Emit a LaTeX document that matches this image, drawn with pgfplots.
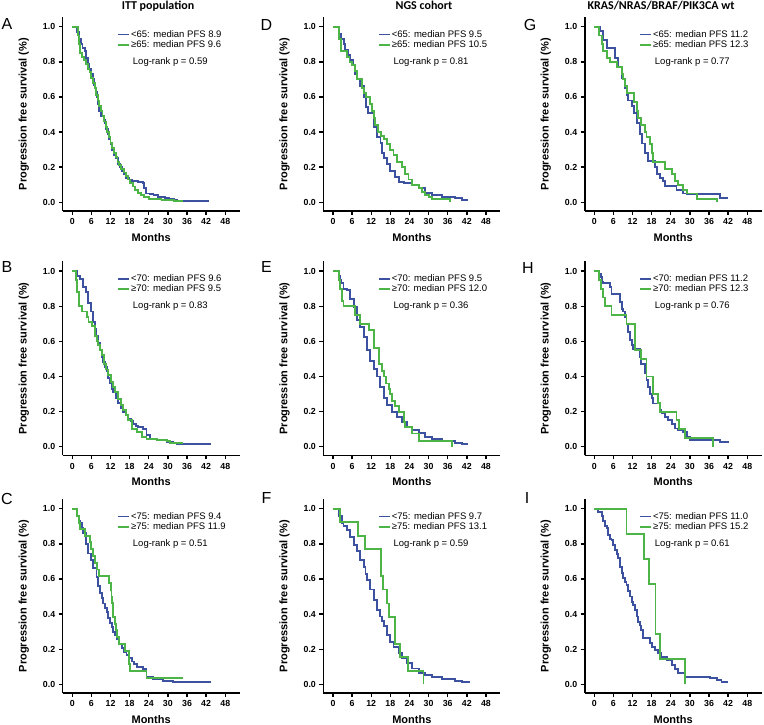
\documentclass[border=0pt]{standalone}
\usepackage{fontspec}
\setmainfont{Liberation Sans}
\newfontfamily\calibri{Carlito}
\usepackage{pgfplots}
\pgfplotsset{compat=1.18}
\definecolor{kmblue}{RGB}{61,81,161}
\definecolor{kmgreen}{RGB}{77,181,72}

\pgfplotsset{
  km/.style={
    anchor=south west,
    x=3.1875pt, y=175.6pt,
    xmin=-3, xmax=52.5, ymin=-0.05, ymax=1.055,
    axis lines=left, axis line style={-, line width=1.6pt, black},
    xtick={0,6,...,48}, ytick={0,0.2,0.4,0.6,0.8,1.0},
    tick align=outside, major tick length=4pt,
    tick style={line width=1.4pt, black},
    /pgf/number format/assume math mode=true,
    yticklabel style={/pgf/number format/.cd, fixed, fixed zerofill, precision=1},
    ticklabel style={font=\bfseries\fontsize{8.8}{10}\selectfont},
    xlabel={Months}, ylabel={Progression free survival (\%)},
    label style={font=\bfseries\fontsize{11}{13}\selectfont},
    xlabel style={at={(axis description cs:0.5,-0.134)}, anchor=center},
    ylabel style={at={(axis description cs:-0.22,0.5)}, anchor=center},
    legend style={draw=none, fill=none, at={(axis description cs:0.307,0.938)},
      anchor=north west, font=\fontsize{9.5}{11}\selectfont, row sep=0pt,
      inner sep=0pt, nodes={inner sep=1pt}},
    legend cell align=left,
    legend image code/.code={\draw[#1] (0pt,0pt) -- (11pt,0pt);},
  },
  bl/.style={kmblue, line width=1.9pt, const plot},
  gr/.style={kmgreen, line width=1.9pt, const plot},
}
\tikzset{logrank/.style={anchor=west, font=\fontsize{9.5}{11}\selectfont, inner sep=0pt}}

\begin{document}
\begin{tikzpicture}
\path[use as bounding box] (0,0) rectangle (764pt,724pt);

% ---- A
\begin{axis}[km, at={(62.7pt,512.9pt)}]
\addplot[bl] coordinates {(0,1)(1.6,0.97)(2.0,0.93)(2.6,0.90)(3.2,0.88)(4.0,0.86)(4.4,0.82)(4.8,0.79)(5.3,0.76)(5.8,0.73)(6.4,0.70)(6.9,0.67)(7.3,0.63)(7.7,0.60)(8.1,0.56)(8.5,0.52)(8.9,0.49)(9.8,0.47)(10.3,0.45)(10.7,0.42)(11.1,0.39)(11.5,0.36)(12.0,0.33)(12.5,0.30)(13.1,0.27)(13.7,0.25)(14.3,0.22)(15.0,0.20)(15.6,0.18)(16.2,0.16)(16.9,0.14)(17.8,0.13)(18.8,0.12)(20.5,0.115)(22.2,0.11)(22.6,0.08)(23.0,0.05)(24.5,0.045)(25.5,0.04)(27,0.03)(29,0.025)(30.5,0.02)(32,0.015)(33,0.01)(43,0.01)};
\addlegendentry{<65: median PFS 8.9}
\addplot[gr] coordinates {(0,1)(1.7,0.95)(2.0,0.90)(2.3,0.85)(3.0,0.83)(3.8,0.81)(4.4,0.79)(4.9,0.76)(5.4,0.74)(5.9,0.71)(6.5,0.68)(7.0,0.65)(7.5,0.61)(8.0,0.58)(8.5,0.55)(9.0,0.52)(9.5,0.49)(10.0,0.46)(10.5,0.43)(11.0,0.40)(11.5,0.37)(12.0,0.34)(12.5,0.31)(13.0,0.28)(13.6,0.26)(14.2,0.23)(14.8,0.21)(15.4,0.19)(16.1,0.17)(16.8,0.15)(17.5,0.13)(18.2,0.11)(19.0,0.09)(19.8,0.07)(20.6,0.055)(21.5,0.04)(22.5,0.03)(24,0.02)(26,0.017)(28,0.015)(30,0.012)(32,0.01)(34.8,0.01)};
\addlegendentry{≥65: median PFS 9.6}
\node[logrank] at (axis description cs:0.396,0.770) {Log-rank p = 0.59};
\end{axis}

% ---- B
\begin{axis}[km, at={(62.7pt,268.5pt)}]
\addplot[bl] coordinates {(0,1)(1.6,0.97)(2.4,0.955)(3.45,0.91)(4.3,0.88)(5.0,0.82)(5.75,0.77)(6.6,0.71)(7.1,0.67)(7.6,0.63)(8.1,0.59)(8.7,0.55)(9.2,0.51)(9.7,0.48)(10.2,0.455)(10.8,0.43)(11.3,0.39)(11.8,0.36)(12.3,0.33)(12.9,0.31)(13.6,0.28)(14.4,0.25)(15.2,0.22)(16.0,0.20)(16.8,0.18)(17.6,0.16)(18.3,0.145)(19.1,0.13)(19.9,0.12)(20.7,0.11)(22.3,0.10)(23.3,0.066)(24.4,0.047)(26.5,0.038)(29.6,0.028)(31.5,0.02)(32.7,0.017)(43.2,0.015)};
\addlegendentry{<70: median PFS 9.6}
\addplot[gr] coordinates {(0,1)(1.2,0.95)(1.6,0.88)(2.0,0.80)(3.0,0.77)(4.6,0.74)(5.1,0.71)(6.1,0.69)(7.1,0.63)(7.7,0.60)(8.2,0.58)(8.7,0.55)(9.2,0.52)(9.9,0.47)(10.5,0.44)(11.2,0.41)(12.2,0.37)(12.8,0.34)(13.4,0.31)(14.4,0.27)(15.2,0.24)(16.0,0.21)(16.8,0.18)(17.6,0.15)(18.6,0.10)(20.2,0.085)(21.8,0.057)(23.3,0.042)(26.5,0.038)(29.6,0.032)(30.6,0.023)(34.8,0.023)};
\addlegendentry{≥70: median PFS 9.5}
\node[logrank] at (axis description cs:0.396,0.770) {Log-rank p = 0.83};
\end{axis}

% ---- C
\begin{axis}[km, at={(62.7pt,30.9pt)}]
\addplot[bl] coordinates {(0,1)(1.4,0.96)(2.0,0.93)(2.4,0.92)(3.0,0.89)(3.45,0.86)(4.3,0.80)(5.0,0.745)(5.75,0.71)(6.6,0.66)(7.6,0.61)(8.2,0.56)(8.7,0.52)(9.2,0.49)(9.7,0.46)(10.3,0.435)(10.8,0.41)(11.3,0.38)(11.8,0.35)(12.4,0.325)(12.9,0.30)(13.4,0.28)(13.9,0.26)(14.7,0.23)(15.5,0.205)(16.2,0.185)(17.0,0.167)(17.8,0.15)(18.6,0.13)(19.4,0.115)(20.2,0.10)(22.3,0.087)(23.3,0.044)(25.4,0.03)(28.5,0.021)(31.7,0.013)(43.2,0.011)};
\addlegendentry{<75: median PFS 9.4}
\addplot[gr] coordinates {(0,1)(1.5,0.96)(2.0,0.92)(2.4,0.885)(4.0,0.846)(5.7,0.808)(6.0,0.77)(6.6,0.73)(7.1,0.69)(7.9,0.654)(8.5,0.615)(11.5,0.577)(12.1,0.538)(12.3,0.5)(12.5,0.462)(12.7,0.423)(12.9,0.385)(13.4,0.346)(13.8,0.308)(14.1,0.27)(14.6,0.23)(16.5,0.19)(17.7,0.154)(17.9,0.115)(18.1,0.077)(23.3,0.038)(34.6,0.038)};
\addlegendentry{≥75: median PFS 11.9}
\node[logrank] at (axis description cs:0.396,0.770) {Log-rank p = 0.51};
\end{axis}

% ---- D
\begin{axis}[km, at={(323.4pt,512.9pt)}]
\addplot[bl] coordinates {(0,1)(2.0,0.96)(2.6,0.93)(3.4,0.90)(3.9,0.87)(4.7,0.84)(5.4,0.81)(6.3,0.78)(7.0,0.73)(7.5,0.70)(8.6,0.66)(9.6,0.60)(10.3,0.545)(11.1,0.51)(12.8,0.43)(13.8,0.37)(14.9,0.34)(15.4,0.28)(15.9,0.25)(16.9,0.22)(18.0,0.18)(19.6,0.146)(20.6,0.118)(22.2,0.108)(24.8,0.10)(26.9,0.08)(29.0,0.051)(31.0,0.042)(34.2,0.032)(38.4,0.023)(40.4,0.013)(42.2,0.01)};
\addlegendentry{<65: median PFS 9.5}
\addplot[gr] coordinates {(0,1)(2.0,0.93)(2.4,0.88)(2.6,0.86)(4.4,0.83)(5.2,0.80)(6.0,0.78)(6.8,0.75)(7.5,0.70)(9.1,0.65)(9.6,0.62)(10.5,0.60)(11.7,0.56)(12.2,0.52)(12.8,0.48)(13.3,0.44)(14.2,0.40)(15.0,0.38)(15.9,0.36)(16.9,0.33)(18.0,0.30)(19.0,0.27)(20.1,0.23)(21.6,0.20)(22.7,0.16)(23.7,0.13)(24.8,0.10)(26.9,0.08)(27.9,0.06)(29.0,0.04)(30.0,0.03)(31.1,0.02)(36.8,0.0)};
\addlegendentry{≥65: median PFS 10.5}
\node[logrank] at (axis description cs:0.396,0.770) {Log-rank p = 0.81};
\end{axis}

% ---- E
\begin{axis}[km, at={(323.4pt,268.5pt)}]
\addplot[bl] coordinates {(0,1)(1.8,0.975)(2.3,0.95)(2.6,0.93)(3.3,0.90)(4.4,0.89)(5.4,0.84)(6.5,0.795)(7.5,0.72)(8.6,0.68)(9.6,0.625)(10.7,0.55)(11.7,0.49)(12.8,0.445)(13.8,0.40)(14.8,0.34)(15.9,0.275)(16.9,0.237)(18.5,0.20)(20.1,0.17)(21.6,0.142)(23.2,0.114)(24.8,0.095)(26.9,0.076)(29.0,0.057)(31.1,0.042)(34.2,0.032)(38.4,0.023)(40.5,0.015)(42.2,0.01)};
\addlegendentry{<70: median PFS 9.5}
\addplot[gr] coordinates {(0,1)(1.8,0.95)(2.3,0.90)(2.8,0.83)(3.3,0.80)(6.8,0.75)(8.6,0.70)(11.2,0.665)(12.9,0.56)(14.5,0.47)(15.4,0.43)(16.1,0.40)(16.7,0.36)(17.5,0.33)(18.0,0.30)(18.5,0.26)(19.6,0.23)(20.8,0.20)(22.2,0.14)(22.7,0.11)(24.8,0.075)(26.9,0.035)(37.3,0.0)};
\addlegendentry{≥70: median PFS 12.0}
\node[logrank] at (axis description cs:0.396,0.770) {Log-rank p = 0.36};
\end{axis}

% ---- F
\begin{axis}[km, at={(323.4pt,30.9pt)}]
\addplot[bl] coordinates {(0,1)(1.8,0.956)(2.8,0.92)(3.3,0.90)(4.4,0.88)(5.4,0.84)(6.5,0.795)(7.5,0.757)(8.6,0.71)(9.6,0.67)(10.2,0.63)(10.7,0.595)(11.7,0.54)(12.8,0.48)(13.8,0.424)(14.8,0.386)(15.4,0.36)(15.9,0.33)(16.9,0.28)(18.0,0.243)(19.0,0.215)(20.6,0.177)(21.6,0.148)(23.2,0.12)(24.8,0.09)(26.9,0.063)(29.0,0.053)(31.1,0.044)(34.2,0.029)(38.4,0.019)(40.5,0.015)(42.6,0.011)};
\addlegendentry{<75: median PFS 9.7}
\addplot[gr] coordinates {(0,1)(2.3,0.923)(7.8,0.846)(10.1,0.77)(15.2,0.615)(15.7,0.54)(16.9,0.46)(17.5,0.385)(19.6,0.23)(21.1,0.154)(23.5,0.077)(28.4,0.0)};
\addlegendentry{≥75: median PFS 13.1}
\node[logrank] at (axis description cs:0.396,0.770) {Log-rank p = 0.59};
\end{axis}

% ---- G
\begin{axis}[km, at={(584.7pt,512.9pt)}]
\addplot[bl] coordinates {(0,1)(1.8,0.975)(2.6,0.925)(4.1,0.88)(6.5,0.82)(7.5,0.77)(8.6,0.705)(9.6,0.65)(10.1,0.61)(10.7,0.58)(11.7,0.55)(12.4,0.51)(13.3,0.45)(14.3,0.39)(15.1,0.335)(15.9,0.28)(16.9,0.237)(19.0,0.20)(19.6,0.16)(20.6,0.14)(21.6,0.12)(22.2,0.093)(25.8,0.07)(27.9,0.05)(29.0,0.045)(39.4,0.023)(42.0,0.023)};
\addlegendentry{<65: median PFS 11.2}
\addplot[gr] coordinates {(0,1)(1.6,0.95)(2.3,0.90)(2.8,0.86)(3.9,0.82)(4.9,0.80)(7.0,0.77)(8.6,0.73)(9.1,0.70)(9.6,0.66)(10.4,0.62)(12.4,0.57)(13.3,0.52)(13.8,0.48)(14.8,0.44)(15.9,0.40)(16.4,0.37)(17.5,0.33)(18.0,0.28)(18.5,0.23)(22.2,0.19)(24.3,0.16)(25.3,0.12)(26.4,0.10)(27.9,0.07)(29.0,0.05)(32.1,0.02)(38.4,0.0)};
\addlegendentry{≥65: median PFS 12.3}
\node[logrank] at (axis description cs:0.396,0.770) {Log-rank p = 0.77};
\end{axis}

% ---- H
\begin{axis}[km, at={(584.7pt,268.5pt)}]
\addplot[bl] coordinates {(0,1)(1.6,0.985)(2.0,0.966)(2.3,0.94)(2.8,0.93)(4.9,0.91)(5.4,0.87)(8.1,0.824)(8.6,0.786)(9.1,0.77)(9.6,0.74)(10.1,0.70)(10.7,0.653)(11.2,0.61)(11.7,0.58)(12.2,0.555)(14.3,0.51)(14.8,0.47)(15.9,0.42)(16.4,0.38)(16.9,0.34)(17.5,0.30)(18.0,0.275)(18.5,0.246)(20.6,0.208)(21.1,0.19)(22.2,0.17)(23.2,0.15)(24.3,0.13)(25.3,0.104)(26.4,0.095)(27.9,0.085)(29.0,0.057)(30.0,0.04)(39.4,0.028)(42.0,0.019)};
\addlegendentry{<70: median PFS 11.2}
\addplot[gr] coordinates {(0,1)(1.6,0.95)(2.0,0.90)(2.6,0.85)(3.3,0.80)(5.4,0.75)(10.1,0.70)(12.8,0.55)(14.8,0.50)(16.4,0.40)(18.5,0.30)(20.1,0.25)(20.6,0.20)(25.8,0.15)(26.7,0.10)(28.4,0.05)(37.3,0.0)};
\addlegendentry{≥70: median PFS 12.3}
\node[logrank] at (axis description cs:0.396,0.770) {Log-rank p = 0.76};
\end{axis}

% ---- I
\begin{axis}[km, at={(584.7pt,30.9pt)}]
\addplot[bl] coordinates {(0,1)(1.3,0.98)(2.3,0.956)(2.8,0.928)(3.3,0.90)(3.9,0.89)(4.4,0.85)(4.9,0.83)(5.4,0.82)(6.0,0.795)(6.5,0.766)(7.0,0.74)(7.5,0.72)(8.1,0.67)(8.6,0.633)(9.1,0.605)(9.6,0.585)(10.1,0.567)(10.7,0.53)(11.2,0.50)(11.7,0.47)(12.2,0.45)(12.8,0.424)(13.3,0.386)(13.8,0.357)(14.3,0.335)(14.8,0.31)(15.4,0.265)(17.5,0.234)(18.0,0.215)(19.0,0.196)(20.1,0.177)(21.1,0.158)(22.7,0.139)(24.3,0.11)(25.3,0.086)(26.4,0.063)(28.4,0.044)(36.3,0.034)(38.4,0.025)(39.9,0.015)(42.0,0.015)};
\addlegendentry{<75: median PFS 11.0}
\addplot[gr] coordinates {(0,1)(10.1,0.857)(15.6,0.714)(17.3,0.571)(19.2,0.286)(20.7,0.143)(28.4,0.0)};
\addlegendentry{≥75: median PFS 15.2}
\node[logrank] at (axis description cs:0.396,0.770) {Log-rank p = 0.61};
\end{axis}

% column titles and panel letters
\begin{scope}[every node/.style={inner sep=0pt}]
\node[anchor=base, font=\calibri\bfseries\fontsize{12}{14}\selectfont] at (158pt,714pt) {ITT population};
\node[anchor=base, font=\calibri\bfseries\fontsize{12}{14}\selectfont] at (424pt,714pt) {NGS cohort};
\node[anchor=base, font=\calibri\bfseries\fontsize{12}{14}\selectfont] at (661pt,714pt) {KRAS/NRAS/BRAF/PIK3CA wt};
\foreach \l/\x/\y in {A/7/700, D/266.5/698.5, G/530/699, B/7/457, E/266.5/457, H/528/456, C/7/225.5, F/266.5/226, I/527/226}
  \node[font=\fontsize{16}{18}\selectfont] at (\x pt,\y pt) {\l};
\end{scope}
\end{tikzpicture}
\end{document}
